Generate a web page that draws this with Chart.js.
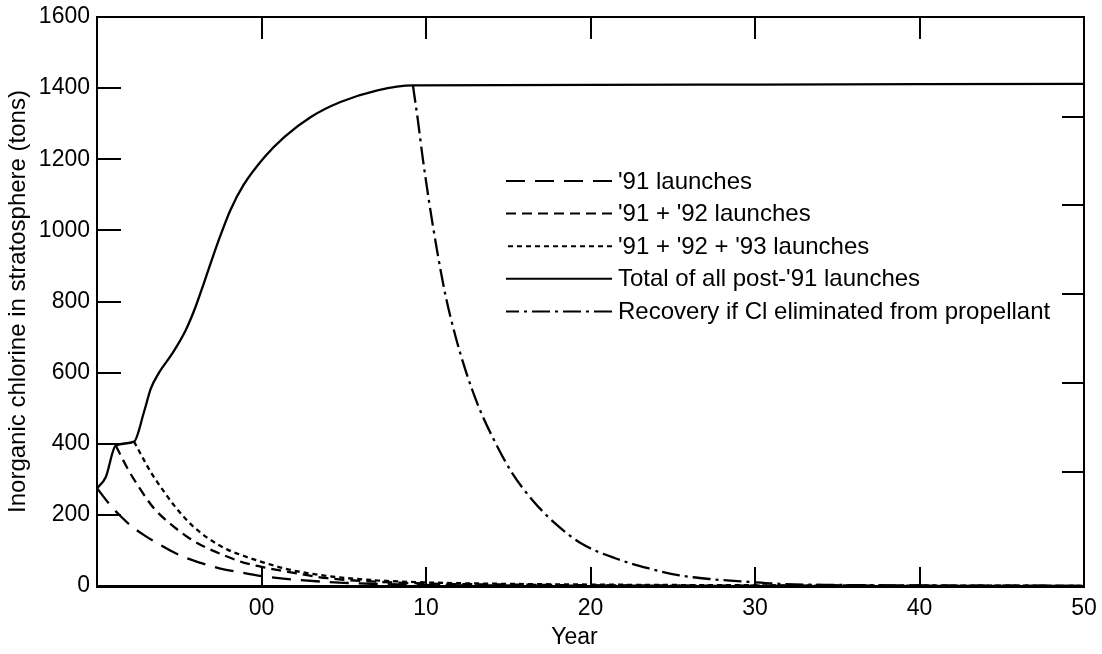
<!DOCTYPE html>
<html>
<head>
<meta charset="utf-8">
<title>Inorganic chlorine in stratosphere</title>
<script src="https://cdn.jsdelivr.net/npm/chart.js"></script>
<style>
    html, body { margin: 0; padding: 0; background: #fff; }
    #wrap { position: relative; width: 1102px; height: 654px; }
</style>
</head>
<body>
<div id="wrap"><canvas id="chart" width="1102" height="654"></canvas></div>
<script>
// Values (x = year, y = tons of inorganic chlorine)
const launch91Years  = [1990, 1990.83, 1991.44, 1992.05, 1992.86, 1993.67, 1994.48, 1995.3, 1996.3, 1997.5, 1998.74, 2000, 2002, 2005, 2010, 2020, 2030, 2050];
const launch91Values = [275, 226, 196, 170, 143, 120, 99, 81, 65, 49, 38, 28, 18, 9, 3, 1, 0.5, 0.3];

const launch9192Years  = [1991.14, 1991.85, 1992.66, 1993.47, 1994.48, 1995.5, 1996.5, 1997.9, 1998.9, 2000, 2001.6, 2004, 2007, 2010, 2015, 2020, 2030, 2050];
const launch9192Values = [395, 331, 270, 218, 174, 138, 111, 83, 66, 54, 40, 22, 12, 7, 4, 2, 1, 0.5];

const launch919293Years  = [1992.25, 1992.66, 1993.27, 1993.88, 1994.7, 1995.7, 1996.7, 1997.9, 1998.9, 2000, 2001.6, 2004, 2007, 2010, 2015, 2020, 2030, 2040, 2050];
const launch919293Values = [406, 371, 320, 278, 226, 174, 136, 103, 85, 68, 47, 28, 16, 10, 6, 4, 2, 1, 0.5];

const totalYears  = [1990, 1990.53, 1991.14, 1992.25, 1992.86, 1993.27, 1993.77, 1994.58, 1995.4, 1996.0, 1996.5, 1997.0, 1997.5, 1998.1, 1998.9, 2000.2, 2001.4, 2003.0, 2004.8, 2007.05, 2009.2, 2020, 2030, 2040, 2050];
const totalValues = [275, 306, 395, 406, 490, 555, 600, 654, 720, 786, 852, 920, 985, 1056, 1127, 1207, 1263, 1319, 1361, 1394, 1408, 1409, 1410, 1411, 1412];

const recoveryYears  = [2009.2, 2009.5, 2009.8, 2010.2, 2010.7, 2011.2, 2011.8, 2012.4, 2013.2, 2014.25, 2015.26, 2016.5, 2017.9, 2019.5, 2021.5, 2023.5, 2025.4, 2027.4, 2029.5, 2031.5, 2035, 2040, 2050];
const recoveryValues = [1409, 1312, 1204, 1077, 936, 814, 701, 607, 504, 400, 316, 240, 174, 118, 78, 50, 30, 19, 12, 6, 3, 1.5, 0.5];

const seriesLabels = [
    "'91 launches",
    "'91 + '92 launches",
    "'91 + '92 + '93 launches",
    "Total of all post-'91 launches",
    "Recovery if Cl eliminated from propellant"
];

// axis ticks
const xTickYears  = [2000, 2010, 2020, 2030, 2040, 2050];
const xTickLabels = ['00', '10', '20', '30', '40', '50'];
const yTickValues = [0, 200, 400, 600, 800, 1000, 1200, 1400, 1600];
const yTickLabels = ['0', '200', '400', '600', '800', '1000', '1200', '1400', '1600'];
const rightTickValues = [320, 570, 820, 1070, 1320];

const FONT = "'Liberation Sans', Arial, Helvetica, sans-serif";

function pts(xs, ys) {
    return xs.map((x, i) => ({ x: x, y: ys[i] }));
}

function line(label, xs, ys, dash) {
    return {
        label: label,
        data: pts(xs, ys),
        borderColor: '#000',
        borderWidth: 2.3,
        borderDash: dash,
        pointRadius: 0,
        fill: false,
        cubicInterpolationMode: 'monotone'
    };
}

// inward tick marks on all four sides
const innerTicks = {
    id: 'innerTicks',
    afterDraw(chart) {
        const { ctx, chartArea: a, scales } = chart;
        ctx.save();
        ctx.strokeStyle = '#000';
        ctx.lineWidth = 2;
        ctx.beginPath();
        yTickValues.forEach(v => {
            if (v === 0 || v === 1600) return;
            const y = Math.round(scales.y.getPixelForValue(v));
            ctx.moveTo(a.left, y);
            ctx.lineTo(a.left + 24, y);
        });
        rightTickValues.forEach(v => {
            const y = Math.round(scales.y2.getPixelForValue(v));
            ctx.moveTo(a.right, y);
            ctx.lineTo(a.right - 22, y);
        });
        xTickYears.forEach(v => {
            if (v === 2050) return;
            const x = Math.round(scales.x.getPixelForValue(v));
            ctx.moveTo(x, a.bottom);
            ctx.lineTo(x, a.bottom - 19);
            ctx.moveTo(x, a.top);
            ctx.lineTo(x, a.top + 22);
        });
        ctx.stroke();
        ctx.restore();
    }
};

// legend drawn inside the plot, line sample then text
const insideLegend = {
    id: 'insideLegend',
    afterDatasetsDraw(chart) {
        const ctx = chart.ctx;
        const x1 = 506, x2 = 612, y0 = 181, step = 32.6;
        ctx.save();
        ctx.font = '24px ' + FONT;
        ctx.fillStyle = '#000';
        ctx.textBaseline = 'middle';
        chart.data.datasets.forEach((ds, i) => {
            const y = y0 + i * step;
            ctx.strokeStyle = '#000';
            ctx.lineWidth = 2;
            ctx.setLineDash(ds.borderDash || []);
            ctx.beginPath();
            // start at the text side so the sample ends on a full dash there
            ctx.moveTo(x2, y);
            ctx.lineTo(x1, y);
            ctx.stroke();
            ctx.setLineDash([]);
            ctx.fillText(ds.label, x2 + 6, y + 1);
        });
        ctx.restore();
    }
};

const ctx = document.getElementById('chart').getContext('2d');
new Chart(ctx, {
    type: 'line',
    data: {
        datasets: [
            line(seriesLabels[0], launch91Years, launch91Values, [19, 10]),
            line(seriesLabels[1], launch9192Years, launch9192Values, [10, 6]),
            line(seriesLabels[2], launch919293Years, launch919293Values, [5, 4]),
            line(seriesLabels[3], totalYears, totalValues, []),
            line(seriesLabels[4], recoveryYears, recoveryValues, [18, 5, 3, 5])
        ]
    },
    options: {
        responsive: false,
        animation: false,
        events: [],
        layout: { padding: 0 },
        plugins: {
            legend: { display: false },
            tooltip: { enabled: false }
        },
        scales: {
            x: {
                type: 'linear',
                position: 'bottom',
                min: 1990,
                max: 2050,
                grid: { display: false, drawTicks: false },
                border: { display: true, color: '#000', width: 3 },
                afterBuildTicks: s => { s.ticks = xTickYears.map(v => ({ value: v })); },
                ticks: {
                    color: '#000',
                    font: { family: FONT, size: 23 },
                    padding: 9,
                    maxRotation: 0,
                    autoSkip: false,
                    callback: v => xTickLabels[xTickYears.indexOf(v)]
                },
                title: {
                    display: true,
                    text: 'Year     ',
                    color: '#000',
                    font: { family: FONT, size: 23 },
                    padding: { top: 0, bottom: 3 }
                },
                afterFit: s => { s.height = 68; s.paddingLeft = 0; s.paddingRight = 0; }
            },
            x2: {
                type: 'linear',
                position: 'top',
                min: 1990,
                max: 2050,
                grid: { display: false, drawTicks: false },
                border: { display: true, color: '#000', width: 2 },
                ticks: { display: false },
                afterFit: s => { s.height = 17; s.paddingLeft = 0; s.paddingRight = 0; }
            },
            y: {
                type: 'linear',
                position: 'left',
                min: 0,
                max: 1600,
                grid: { display: false, drawTicks: false },
                border: { display: true, color: '#000', width: 2 },
                afterBuildTicks: s => { s.ticks = yTickValues.map(v => ({ value: v })); },
                ticks: {
                    color: '#000',
                    font: { family: FONT, size: 23 },
                    padding: 7,
                    callback: v => yTickLabels[yTickValues.indexOf(v)]
                },
                title: {
                    display: true,
                    text: 'Inorganic chlorine in stratosphere (tons)',
                    color: '#000',
                    font: { family: FONT, size: 24 },
                    padding: { top: 4, bottom: 0 }
                },
                afterFit: s => { s.width = 97; s.paddingTop = 0; s.paddingBottom = 0; }
            },
            y2: {
                type: 'linear',
                position: 'right',
                min: 0,
                max: 1600,
                grid: { display: false, drawTicks: false },
                border: { display: true, color: '#000', width: 2 },
                ticks: { display: false },
                afterFit: s => { s.width = 18; s.paddingTop = 0; s.paddingBottom = 0; }
            }
        }
    },
    plugins: [innerTicks, insideLegend]
});
</script>
</body>
</html>
